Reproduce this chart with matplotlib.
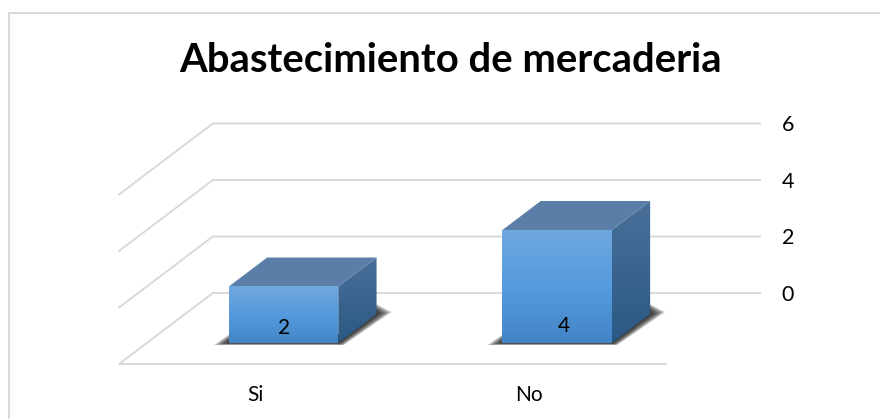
import numpy as np
import matplotlib
matplotlib.use("Agg")
import matplotlib.pyplot as plt
from matplotlib.colors import LinearSegmentedColormap
from matplotlib.lines import Line2D
from matplotlib.patches import Polygon

title = "Abastecimiento de mercaderia"
categories = ["Si", "No"]
values = [2, 4]
value_ticks = [0, 2, 4, 6]

W, H = 880, 419
L, R, T, B = 119, 760, 123.5, 364
fig = plt.figure(figsize=(W / 100, H / 100), dpi=100, facecolor="white")
plt.rcParams["font.family"] = ["Lato", "DejaVu Sans"]
ax = fig.add_axes([L / W, (H - B) / H, (R - L) / W, (B - T) / H])

vmax = value_ticks[-1]
depth_y = 71 / 28.25       # floor depth expressed in value units
depth_x = 94 / 274         # floor depth expressed in category units
xmax = len(categories) + depth_x
ax.set_xlim(0, xmax)
ax.set_ylim(-depth_y, vmax)
for s in ax.spines.values():
    s.set_visible(False)
ax.patch.set_visible(False)


def proj(c, v, d):
    """oblique projection: category c, value v, depth d (0 front, 1 back)"""
    return c + d * depth_x, v - (1 - d) * depth_y


GRID = "#D9D9D9"
for v in value_ticks:
    xs = [0, depth_x, xmax]
    ys = [v - depth_y, v, v]
    if v == 0:
        xs, ys = [xmax - depth_x, 0, depth_x, xmax], [-depth_y, -depth_y, 0, 0]
    ax.plot(xs, ys, color=GRID, lw=1.4, zorder=1, clip_on=False, solid_joinstyle="miter")

ax.set_yticks(value_ticks)
ax.yaxis.tick_right()
ax.tick_params(axis="y", length=0, pad=15.5, labelsize=15.5, labelcolor="black")
ax.set_xticks(np.arange(len(categories)) + 0.5, categories)
ax.tick_params(axis="x", length=0, pad=15, labelsize=15, labelcolor="black")


def grad_face(poly, cols, z):
    xs, ys = zip(*poly)
    cmap = LinearSegmentedColormap.from_list("f", cols)
    im = ax.imshow(np.linspace(0, 1, 128)[:, None], cmap=cmap, aspect="auto", origin="upper",
                   extent=[min(xs), max(xs), min(ys), max(ys)], zorder=z, interpolation="bilinear")
    p = Polygon(poly, closed=True, transform=ax.transData, fc="none", ec="none")
    ax.add_patch(p)
    im.set_clip_path(p)


d0, d1 = 0.296, 0.704
hw = 0.2
label_nudges = [(0, 15), (7, 17)]
for i, (val, nudge) in enumerate(zip(values, label_nudges)):
    c = i + 0.5
    xl, xr = c - hw, c + hw
    # soft floor shadow: stacked translucent layers, darkest next to the bar
    for k in np.linspace(1, 0.1, 9):
        ex = 0.055 * k
        sh = [proj(xl - ex, -0.075 * k, d0), proj(xr + 0.02 * k, -0.075 * k, d0),
              proj(xr + ex, 0.07 * k, d1), proj(xr, 0.25 * k + 0.1, d1),
              proj(xr, 0.3, d0), proj(xl, 0.25 * k + 0.05, d0)]
        ax.add_patch(Polygon(sh, closed=True, fc="#111111", ec="none", alpha=0.17, zorder=2))
    grad_face([proj(xr, 0, d0), proj(xr, 0, d1), proj(xr, val, d1), proj(xr, val, d0)],
              ["#4A7099", "#2A5884"], 3)
    ax.add_patch(Polygon([proj(xl, val, d0), proj(xr, val, d0), proj(xr, val, d1), proj(xl, val, d1)],
                         closed=True, fc="#5A7EA8", ec="none", zorder=3))
    grad_face([proj(xl, 0, d0), proj(xr, 0, d0), proj(xr, val, d0), proj(xl, val, d0)],
              ["#70A8E0", "#559BDD", "#4285C6"], 4)
    ax.annotate(str(val), proj(c, 0, d0), xytext=(nudge[0] / 1.389, nudge[1] / 1.389),
                textcoords="offset points", ha="center", va="center",
                fontsize=15, color="black", zorder=6)

ax.set_xlim(0, xmax)
ax.set_ylim(-depth_y, vmax)

fig.text(451 / W, 1 - 60 / H, title, ha="center", va="center", fontsize=28.8,
         fontweight="bold", color="black")
fig.add_artist(Line2D([9 / W, 9 / W, 1], [0, 1 - 13.5 / H, 1 - 13.5 / H], color=GRID, lw=1.4,
                      transform=fig.transFigure, solid_joinstyle="miter"))

fig.savefig("out.png", dpi=100)
